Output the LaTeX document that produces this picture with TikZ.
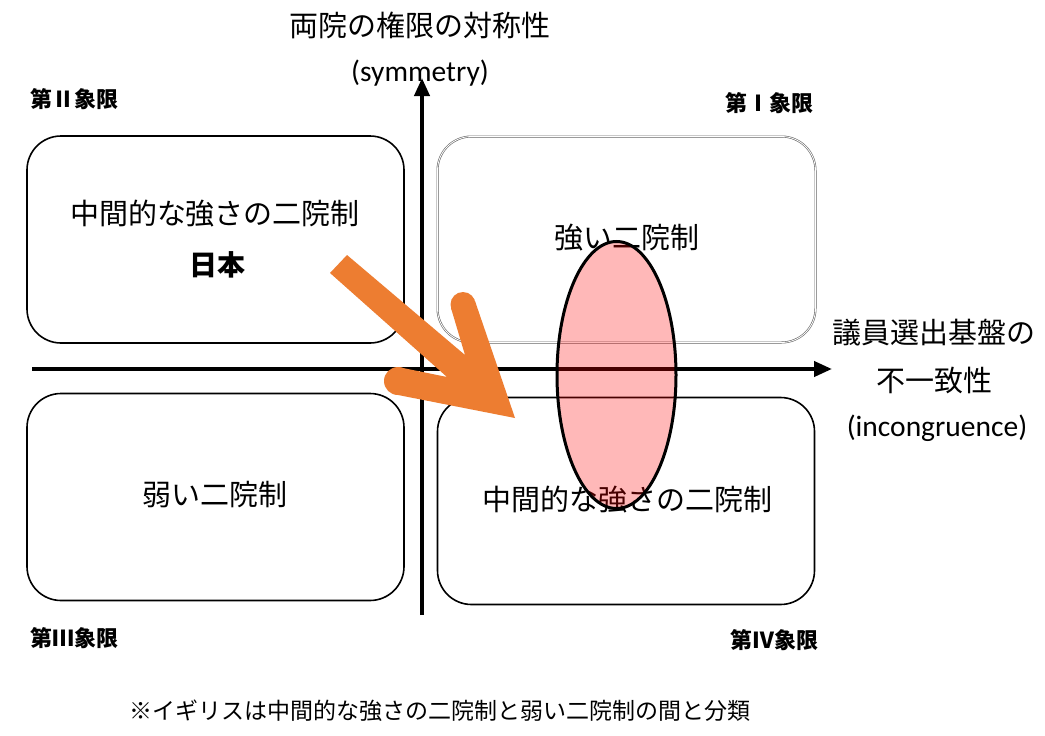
\documentclass[tikz,border=0pt]{standalone}
\usepackage{fontspec}
\usetikzlibrary{shapes.geometric,arrows.meta}
\newfontfamily\jp{Noto Sans CJK JP}
\newfontfamily\lat{Carlito}
\definecolor{arroworange}{HTML}{ED7D31}
\tikzset{
  box/.style={draw=black, line width=1.6pt, rounded corners=34pt, minimum width=377pt, minimum height=207pt, inner sep=0pt},
  graybox/.style={draw=black!60, line width=0.6pt, double=white, double distance=0.8pt, rounded corners=34pt, minimum width=378pt, minimum height=206pt, inner sep=0pt},
  boxtext/.style={font=\jp\fontsize{29}{34}\selectfont, inner sep=0pt},
  axislabel/.style={font=\jp\fontsize{29}{34}\selectfont, inner sep=0pt},
  lattext/.style={font=\lat\fontsize{29.5}{34}\selectfont, inner sep=0pt},
  quad/.style={font=\jp\bfseries\fontsize{22}{26}\selectfont, inner sep=0pt},
  axis/.style={line width=4pt, -{Triangle[length=18pt,width=15pt]}},
  band/.style={ellipse, draw=black, line width=3pt, fill=red, fill opacity=0.28, minimum width=119pt, minimum height=267pt, inner sep=0pt}
}
\begin{document}
\begin{tikzpicture}[x=1pt,y=-1pt]
\useasboundingbox (0,0) rectangle (1045,736);
\fill[white] (0,0) rectangle (1045,736);
% quadrant boxes
\node[box] (q2) at (215.5,239.5) {};
\node[graybox] (q1) at (626.5,239.5) {};
\node[box] (q3) at (215.5,497) {};
\node[box] (q4) at (626,501) {};
% axes
\coordinate (vstart) at (422,615);
\coordinate (vend) at (422,78);
\coordinate (hstart) at (32,369);
\coordinate (hend) at (832,369);
\draw[axis] (vstart) -- (vend);
\draw[axis] (hstart) -- (hend);
% orange arrow
\fill[arroworange] (347,255) -- (465,355) -- (451,308) -- (475,301) -- (515,418) -- (398,395) -- (398,367) -- (447,377) -- (330,273) -- cycle;
\fill[arroworange] (463,304.5) circle[radius=12.5];
\fill[arroworange] (398,381) circle[radius=14];
% box texts
\node[boxtext] (t2a) at (215,214) {中間的な強さの二院制};
\node[boxtext, font=\jp\bfseries\fontsize{28}{34}\selectfont] (t2b) at (217,265) {日本};
\node[boxtext] (t1) at (627,238) {強い二院制};
\node[boxtext] (t3) at (215,495) {弱い二院制};
\node[boxtext] (t4) at (627,500) {中間的な強さの二院制};
% axis labels
\node[axislabel] (ya) at (420,25) {両院の権限の対称性};
\node[lattext] (yb) at (420,73) {(symmetry)};
\node[axislabel] (xa) at (934,333) {議員選出基盤の};
\node[axislabel] (xb) at (934,381) {不一致性};
\node[lattext] (xc) at (937,428) {(incongruence)};
% quadrant labels
\node[quad, anchor=west] (l2) at (30,99) {第Ⅱ象限};
\node[quad, anchor=east] (l1) at (814,103) {第Ⅰ象限};
\node[quad, anchor=west] (l3) at (30,638) {第Ⅲ象限};
\node[quad, anchor=east] (l4) at (819,640) {第Ⅳ象限};
% footnote
\node[font=\jp\fontsize{23}{28}\selectfont, inner sep=0pt] (note) at (440,711) {※イギリスは中間的な強さの二院制と弱い二院制の間と分類};
% ellipse
\node[band] (ell) at (616.5,375) {};
\end{tikzpicture}
\end{document}
